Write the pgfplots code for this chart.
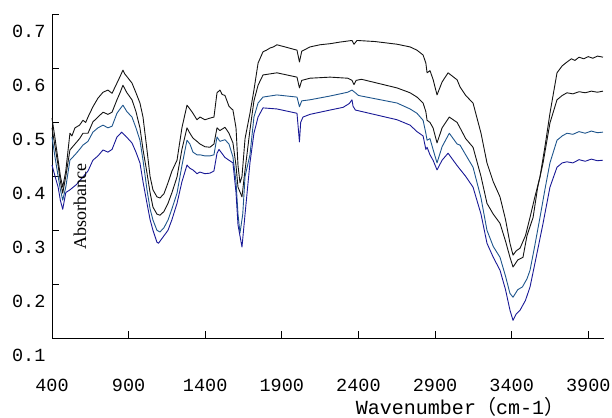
\documentclass[border=0pt]{standalone}
\usepackage{fontspec}
\setmainfont{Liberation Serif}
\newfontfamily\monofont{Liberation Mono}
\newfontfamily\cjk{Noto Sans CJK SC}
\usepackage{pgfplots}
\pgfplotsset{compat=1.18}

\definecolor{spblack}{RGB}{20,20,20}
\definecolor{spteal}{RGB}{30,85,140}
\definecolor{spnavy}{RGB}{25,25,150}

\begin{document}
\begin{tikzpicture}
\begin{axis}[
    scale only axis,
    width=551bp, height=323.3bp,
    xmin=400, xmax=4000,
    ymin=0.1, ymax=0.7,
    axis x line=bottom, axis y line=left,
    axis line style={-, line width=0.8bp},
    tick align=inside,
    major tick length=7bp,
    tick style={line width=0.8bp, black},
    xtick={400,900,1400,1900,2400,2900,3400,3900},
    xticklabels={400,900,1400,1900,2400,2900,3400,3900},
    ytick={0.1,0.2,0.3,0.4,0.5,0.6,0.7},
    yticklabels={0.1,0.2,0.3,0.4,0.5,0.6,0.7},
    ticklabel style={font=\monofont\fontsize{18.5bp}{21bp}\selectfont},
    xticklabel style={yshift=-37bp},
    yticklabel style={yshift=-17bp, xshift=-3bp},
    clip=false,
    every axis plot/.append style={line width=0.9bp, line join=round},
]
% top black
\addplot[spblack] coordinates {
(400,0.508)(420,0.47)(440,0.43)(455,0.40)(470,0.380)(490,0.41)(517,0.480)(530,0.475)(550,0.49)(580,0.495)(602,0.504)
(620,0.50)(635,0.51)(667,0.529)(700,0.545)(733,0.556)(765,0.56)(792,0.554)(824,0.573)(844,0.585)(863,0.597)(875,0.59)(889,0.585)
(922,0.573)(948,0.555)(974,0.536)(994,0.51)(1020,0.449)(1040,0.40)(1059,0.375)(1085,0.362)(1105,0.360)(1131,0.368)
(1157,0.388)(1183,0.41)(1216,0.430)(1248,0.49)(1281,0.532)(1300,0.525)(1320,0.517)(1346,0.505)(1366,0.510)(1398,0.505)
(1431,0.508)(1457,0.51)(1477,0.555)(1496,0.560)(1510,0.552)(1529,0.55)(1555,0.53)(1581,0.523)(1601,0.49)(1614,0.42)(1627,0.388)
(1640,0.40)(1660,0.47)(1692,0.517)(1718,0.56)(1745,0.610)(1777,0.631)(1800,0.634)(1823,0.638)(1845,0.640)(1868,0.644)(1921,0.64)(1999,0.634)
(2015,0.612)(2030,0.632)(2084,0.640)(2149,0.644)(2215,0.646)(2280,0.649)(2358,0.652)(2371,0.645)(2391,0.652)(2508,0.650)
(2652,0.645)(2737,0.640)(2782,0.634)(2822,0.625)(2840,0.61)(2848,0.592)(2867,0.596)(2887,0.58)(2913,0.551)(2946,0.575)
(2985,0.592)(3044,0.579)(3063,0.566)(3100,0.55)(3148,0.536)(3200,0.48)(3239,0.425)(3280,0.39)(3324,0.362)(3360,0.32)
(3389,0.276)(3409,0.254)(3430,0.262)(3455,0.267)(3490,0.29)(3520,0.324)(3550,0.36)(3585,0.399)(3620,0.46)(3650,0.517)
(3696,0.592)(3730,0.605)(3761,0.612)(3790,0.618)(3813,0.615)(3840,0.621)(3870,0.618)(3900,0.622)(3930,0.619)(3960,0.623)(3996,0.621)
};
% second black
\addplot[spblack] coordinates {
(400,0.49)(420,0.455)(440,0.42)(455,0.39)(470,0.369)(490,0.40)(517,0.449)(550,0.46)(580,0.47)(602,0.480)
(635,0.48)(667,0.501)(700,0.51)(733,0.519)(765,0.515)(792,0.519)(824,0.542)(844,0.555)(863,0.569)(889,0.555)
(922,0.542)(948,0.52)(974,0.49)(994,0.45)(1020,0.406)(1040,0.37)(1059,0.343)(1085,0.33)(1105,0.328)(1131,0.335)
(1157,0.350)(1183,0.37)(1216,0.399)(1248,0.45)(1281,0.490)(1300,0.48)(1320,0.471)(1346,0.465)(1366,0.46)(1398,0.455)
(1431,0.454)(1457,0.46)(1477,0.49)(1496,0.485)(1529,0.491)(1555,0.48)(1581,0.462)(1601,0.42)(1614,0.380)(1640,0.362)
(1655,0.40)(1692,0.486)(1718,0.54)(1745,0.569)(1777,0.588)(1868,0.592)(1999,0.584)(2015,0.564)(2030,0.578)(2084,0.582)
(2215,0.584)(2330,0.582)(2358,0.578)(2371,0.57)(2385,0.578)(2420,0.58)(2652,0.564)(2737,0.555)(2782,0.547)(2822,0.536)
(2840,0.52)(2848,0.504)(2867,0.50)(2887,0.49)(2913,0.462)(2946,0.49)(2993,0.510)(3044,0.50)(3063,0.490)(3100,0.47)
(3148,0.454)(3200,0.40)(3239,0.350)(3280,0.33)(3324,0.313)(3360,0.28)(3389,0.250)(3409,0.232)(3440,0.245)(3474,0.250)
(3500,0.29)(3540,0.324)(3570,0.38)(3605,0.425)(3650,0.499)(3696,0.542)(3730,0.55)(3761,0.555)(3800,0.553)(3840,0.557)
(3880,0.555)(3920,0.558)(3960,0.556)(3996,0.558)
};
% teal
\addplot[spteal] coordinates {
(400,0.473)(420,0.435)(440,0.40)(455,0.375)(470,0.356)(490,0.38)(517,0.430)(550,0.44)(580,0.45)(602,0.458)
(635,0.465)(667,0.482)(700,0.49)(733,0.495)(765,0.49)(792,0.493)(824,0.517)(844,0.525)(863,0.532)(889,0.52)
(922,0.510)(948,0.49)(974,0.467)(994,0.43)(1020,0.375)(1040,0.34)(1059,0.319)(1085,0.30)(1105,0.297)(1131,0.305)
(1157,0.319)(1183,0.34)(1216,0.369)(1248,0.42)(1281,0.467)(1300,0.46)(1320,0.445)(1346,0.44)(1366,0.44)(1398,0.438)
(1431,0.438)(1457,0.44)(1477,0.473)(1496,0.465)(1529,0.468)(1555,0.46)(1581,0.436)(1601,0.39)(1614,0.33)(1627,0.295)
(1645,0.33)(1660,0.40)(1692,0.440)(1718,0.51)(1745,0.536)(1777,0.547)(1868,0.551)(1999,0.547)(2015,0.529)(2030,0.54)
(2084,0.542)(2215,0.549)(2330,0.556)(2358,0.560)(2380,0.555)(2400,0.55)(2652,0.536)(2737,0.525)(2782,0.517)(2822,0.504)
(2840,0.48)(2848,0.467)(2867,0.47)(2887,0.45)(2913,0.425)(2946,0.455)(2993,0.48)(3044,0.46)(3063,0.458)(3100,0.44)
(3148,0.417)(3200,0.36)(3239,0.300)(3280,0.27)(3324,0.250)(3360,0.215)(3389,0.183)(3409,0.176)(3440,0.19)(3470,0.195)
(3500,0.21)(3520,0.226)(3550,0.27)(3585,0.324)(3620,0.38)(3650,0.425)(3696,0.467)(3730,0.475)(3761,0.480)(3800,0.478)
(3840,0.483)(3880,0.480)(3920,0.484)(3960,0.481)(3996,0.482)
};
% navy
\addplot[spnavy] coordinates {
(400,0.421)(420,0.40)(440,0.38)(455,0.355)(470,0.339)(490,0.37)(517,0.375)(560,0.385)(602,0.399)(635,0.41)
(667,0.430)(700,0.438)(733,0.449)(765,0.445)(792,0.45)(824,0.473)(855,0.482)(880,0.475)(922,0.462)(948,0.445)
(974,0.425)(994,0.39)(1020,0.350)(1040,0.32)(1059,0.300)(1085,0.278)(1095,0.276)(1131,0.29)(1157,0.300)(1183,0.32)
(1216,0.350)(1248,0.39)(1281,0.421)(1300,0.415)(1320,0.412)(1346,0.405)(1366,0.408)(1398,0.405)(1431,0.406)(1457,0.41)
(1477,0.443)(1490,0.45)(1529,0.435)(1555,0.43)(1581,0.425)(1601,0.37)(1614,0.31)(1640,0.269)(1660,0.33)(1692,0.425)
(1718,0.48)(1745,0.510)(1777,0.527)(1868,0.525)(1999,0.517)(2015,0.464)(2023,0.50)(2038,0.51)(2084,0.515)(2215,0.523)
(2300,0.528)(2340,0.535)(2358,0.542)(2365,0.53)(2380,0.523)(2652,0.505)(2737,0.495)(2782,0.483)(2822,0.475)(2840,0.45)
(2848,0.454)(2867,0.44)(2887,0.43)(2913,0.412)(2946,0.43)(2985,0.443)(3044,0.42)(3100,0.40)(3148,0.380)(3200,0.33)
(3239,0.276)(3280,0.25)(3324,0.226)(3360,0.19)(3389,0.152)(3409,0.133)(3430,0.145)(3455,0.152)(3490,0.17)(3520,0.195)
(3560,0.25)(3605,0.313)(3650,0.380)(3696,0.417)(3730,0.425)(3761,0.427)(3800,0.425)(3840,0.431)(3880,0.428)(3920,0.432)
(3960,0.429)(3996,0.430)
};
\node[rotate=90, font=\fontsize{18bp}{20bp}\selectfont] at (axis cs:583,0.345) {Absorbance};
\node[font=\monofont\fontsize{20bp}{23bp}\selectfont] at (axis cs:3063,-0.028) {Wavenumber{\cjk （}cm-1{\cjk ）}};
\coordinate (bbl) at (axis cs:60.6,-0.0466);
\coordinate (btr) at (axis cs:4055,0.727);
\end{axis}
\pgfresetboundingbox
\path[use as bounding box] (bbl) rectangle (btr);
\end{tikzpicture}
\end{document}
